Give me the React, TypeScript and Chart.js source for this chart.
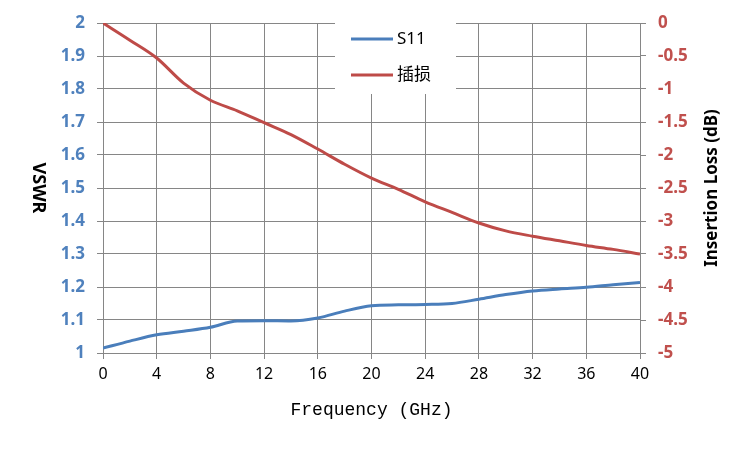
import { useEffect, useRef } from 'react';
import { Chart, registerables } from 'chart.js';

Chart.register(...registerables);

// values
const freqGHz = [0, 2, 4, 6, 8, 10, 12, 14, 16, 18, 20, 22, 24, 26, 28, 30, 32, 34, 36, 38, 40];
const s11Vswr = [
  1.015, 1.036, 1.055, 1.066, 1.078, 1.097, 1.098, 1.097, 1.106, 1.127, 1.143,
  1.146, 1.147, 1.15, 1.163, 1.177, 1.188, 1.194, 1.199, 1.207, 1.214,
];
const insertionLossDb = [
  0, -0.26, -0.53, -0.91, -1.17, -1.33, -1.51, -1.69, -1.91, -2.14, -2.35,
  -2.52, -2.71, -2.87, -3.03, -3.15, -3.23, -3.3, -3.37, -3.43, -3.5,
];
const seriesNames = ['S11', '插损'];

const BLUE = '#4A7EBB';
const RED = '#BE4B48';
const BLUE_TEXT = '#4F81BD';
const RED_TEXT = '#C0504D';
const GRID = '#868686';

const fmt = (v: any) => String(Number(Number(v).toFixed(1)));

// axis titles (Excel orientation) and the legend box inside the plot
const overlayPlugin = {
  id: 'overlay',
  afterDraw(chart: any) {
    const { ctx, chartArea } = chart;
    const midY = (chartArea.top + chartArea.bottom) / 2;
    ctx.save();
    ctx.fillStyle = '#000';
    ctx.textAlign = 'center';
    ctx.textBaseline = 'middle';

    ctx.font = 'bold 18px "Noto Sans"';
    ctx.save();
    ctx.translate(38, midY);
    ctx.rotate(Math.PI / 2);
    ctx.fillText('VSWR', 0, 0);
    ctx.restore();

    ctx.font = 'bold 17px "Noto Sans"';
    ctx.save();
    ctx.translate(712, midY);
    ctx.rotate(-Math.PI / 2);
    ctx.fillText('Insertion Loss (dB)', 0, 0);
    ctx.restore();

    ctx.font = '18px "Liberation Mono"';
    ctx.fillText('Frequency (GHz)', (chartArea.left + chartArea.right) / 2, 410);

    // legend
    ctx.fillStyle = '#fff';
    ctx.fillRect(335, chartArea.top - 1, 121, 72);
    ctx.textAlign = 'left';
    ctx.font = '17px "Noto Sans", "Noto Sans CJK SC"';
    chart.data.datasets.forEach((ds: any, i: number) => {
      const y = 39 + i * 36;
      ctx.strokeStyle = ds.borderColor;
      ctx.lineWidth = 3;
      ctx.beginPath();
      ctx.moveTo(351, y);
      ctx.lineTo(393, y);
      ctx.stroke();
      ctx.fillStyle = '#000';
      ctx.fillText(ds.label, 397, y);
    });
    ctx.restore();
  },
};

export default function App() {
  const canvasRef = useRef<HTMLCanvasElement>(null);

  useEffect(() => {
    if (!canvasRef.current) return;
    const chart = new Chart(canvasRef.current, {
      type: 'line',
      data: {
        datasets: [
          {
            label: seriesNames[0],
            data: freqGHz.map((f, i) => ({ x: f, y: s11Vswr[i] })),
            borderColor: BLUE,
            borderWidth: 3,
            pointRadius: 0,
            cubicInterpolationMode: 'monotone',
            yAxisID: 'y',
          },
          {
            label: seriesNames[1],
            data: freqGHz.map((f, i) => ({ x: f, y: insertionLossDb[i] })),
            borderColor: RED,
            borderWidth: 3,
            pointRadius: 0,
            cubicInterpolationMode: 'monotone',
            yAxisID: 'y1',
          },
        ],
      },
      options: {
        animation: false,
        responsive: true,
        maintainAspectRatio: false,
        layout: { padding: { top: 23 } },
        plugins: {
          legend: { display: false },
          tooltip: { enabled: false },
        },
        scales: {
          x: {
            type: 'linear',
            min: 0,
            max: 40,
            ticks: {
              stepSize: 4,
              color: '#000',
              padding: 6,
              font: { family: '"Noto Sans"', size: 16 },
            },
            grid: { color: GRID, tickLength: 6, lineWidth: 1 },
            border: { color: GRID },
            afterFit: (s: any) => {
              s.height = 97;
            },
          },
          y: {
            position: 'left',
            min: 1,
            max: 2,
            ticks: {
              stepSize: 0.1,
              color: BLUE_TEXT,
              padding: 12,
              font: { family: '"Noto Sans"', size: 17, weight: 'bold' },
              callback: fmt,
            },
            grid: { color: GRID, tickLength: 6 },
            border: { color: GRID },
            afterFit: (s: any) => {
              s.width = 103;
            },
          },
          y1: {
            position: 'right',
            min: -5,
            max: 0,
            ticks: {
              stepSize: 0.5,
              color: RED_TEXT,
              padding: 12,
              font: { family: '"Noto Sans"', size: 17, weight: 'bold' },
              callback: fmt,
            },
            grid: { color: GRID, tickLength: 6, drawOnChartArea: false },
            border: { color: GRID },
            afterFit: (s: any) => {
              s.width = 110;
            },
          },
        },
      },
      plugins: [overlayPlugin],
    });
    return () => chart.destroy();
  }, []);

  return (
    <div style={{ position: 'absolute', left: 0, top: 0, width: 750, height: 450, background: '#fff' }}>
      <canvas ref={canvasRef} />
    </div>
  );
}
